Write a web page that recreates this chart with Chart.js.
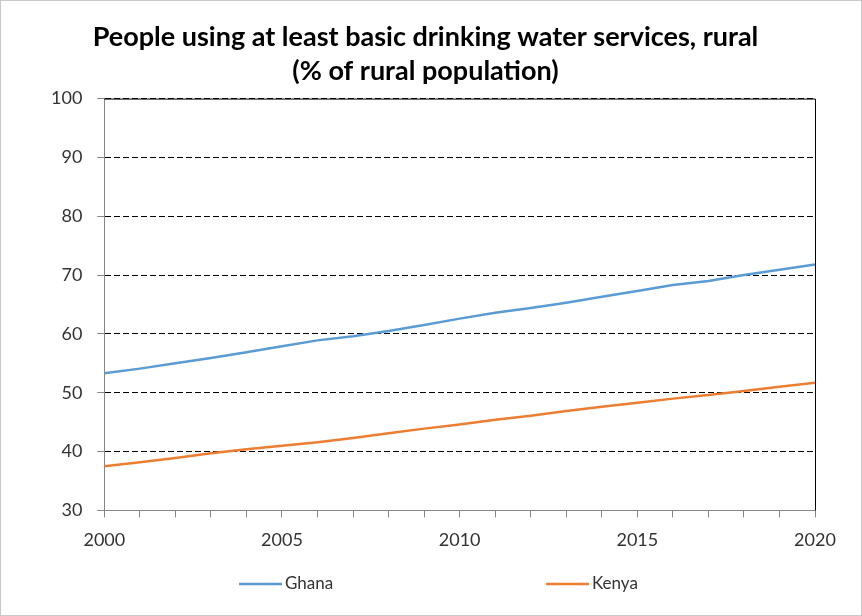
<!DOCTYPE html>
<html>
<head>
<meta charset="utf-8">
<script src="https://cdn.jsdelivr.net/npm/chart.js@4/dist/chart.umd.min.js"></script>
<style>
  html, body { margin: 0; padding: 0; background: #fff; }
  #frame { width: 860px; height: 614px; border: 1px solid #c8c8c8; position: relative; }
  canvas { display: block; }
</style>
</head>
<body>
<div id="frame"><canvas id="chart" width="860" height="614"></canvas></div>
<script>
// Rural population using at least basic drinking water services (%)
const years = [2000, 2001, 2002, 2003, 2004, 2005, 2006, 2007, 2008, 2009, 2010,
               2011, 2012, 2013, 2014, 2015, 2016, 2017, 2018, 2019, 2020];
const ghana = [53.3, 54.1, 55.0, 55.9, 56.9, 57.9, 58.9, 59.6, 60.5, 61.5, 62.6,
               63.6, 64.4, 65.3, 66.3, 67.3, 68.3, 69.0, 70.0, 70.9, 71.8];
const kenya = [37.5, 38.2, 38.9, 39.7, 40.4, 41.0, 41.6, 42.3, 43.1, 43.9, 44.6,
               45.4, 46.1, 46.9, 47.6, 48.3, 49.0, 49.6, 50.3, 51.0, 51.7];
const seriesNames = ['Ghana', 'Kenya'];
const titleLines = ['People using at least basic drinking water services, rural',
                    '(% of rural population)'];
const yMin = 30, yMax = 100, yStep = 10;
const xLabelStep = 5;

const FONT = 'Lato, "Open Sans", sans-serif';
const colors = ['#5b9bd5', '#ed7d31'];

// Solid frame on the top and right edges of the plot area
const frameEdges = {
  id: 'frameEdges',
  beforeDatasetsDraw(chart) {
    const { ctx, chartArea: a } = chart;
    ctx.save();
    ctx.strokeStyle = '#000';
    ctx.lineWidth = 1;
    ctx.setLineDash([]);
    ctx.beginPath();
    ctx.moveTo(a.left, a.top + 0.5);
    ctx.lineTo(a.right + 0.5, a.top + 0.5);
    ctx.lineTo(a.right + 0.5, a.bottom);
    ctx.stroke();
    ctx.restore();
  }
};

// Widely spaced legend row under the x axis
const wideLegend = {
  id: 'wideLegend',
  afterDraw(chart) {
    const { ctx } = chart;
    const cx = chart.width / 2;
    const y = chart.height - 31;
    const starts = [cx - 192, cx + 115];
    ctx.save();
    ctx.font = '17px ' + FONT;
    ctx.textBaseline = 'middle';
    ctx.fillStyle = '#333';
    chart.data.datasets.forEach((ds, i) => {
      const x0 = starts[i];
      ctx.strokeStyle = ds.borderColor;
      ctx.lineWidth = 2.5;
      ctx.beginPath();
      ctx.moveTo(x0, y);
      ctx.lineTo(x0 + 43, y);
      ctx.stroke();
      ctx.fillText(ds.label, x0 + 46, y);
    });
    ctx.restore();
  }
};

const datasets = [ghana, kenya].map((vals, i) => ({
  label: seriesNames[i],
  data: years.map((yr, k) => ({ x: yr, y: vals[k] })),
  borderColor: colors[i],
  backgroundColor: colors[i],
  borderWidth: 2.5,
  pointRadius: 0,
  tension: 0,
  fill: false
}));

new Chart(document.getElementById('chart'), {
  type: 'line',
  data: { datasets },
  options: {
    responsive: false,
    animation: false,
    layout: { padding: { left: 35, right: 46, top: 19, bottom: 52 } },
    plugins: {
      legend: { display: false },
      tooltip: { enabled: false },
      title: {
        display: true,
        text: titleLines,
        color: '#000',
        font: { family: FONT, size: 27, weight: 'bold', lineHeight: 1.27 },
        padding: { top: 0, bottom: 10 }
      }
    },
    scales: {
      x: {
        type: 'linear',
        min: years[0],
        max: years[years.length - 1],
        grid: { drawOnChartArea: false, drawTicks: true, tickLength: 7, color: '#868686' },
        border: { color: '#868686', width: 1 },
        ticks: {
          stepSize: 1,
          autoSkip: false,
          maxRotation: 0,
          padding: 12,
          color: '#333',
          font: { family: FONT, size: 18 },
          callback: v => (v % xLabelStep === 0 ? String(v) : '')
        }
      },
      y: {
        min: yMin,
        max: yMax,
        grid: {
          color: ctx => (ctx.tick && ctx.tick.value === yMin ? 'rgba(0,0,0,0)' : '#000'),
          tickColor: '#868686',
          tickLength: 7,
          lineWidth: 1
        },
        border: { color: '#868686', width: 1, dash: [6, 3] },
        ticks: {
          stepSize: yStep,
          padding: 15,
          color: '#333',
          font: { family: FONT, size: 18 }
        }
      }
    }
  },
  plugins: [frameEdges, wideLegend]
});
</script>
</body>
</html>
